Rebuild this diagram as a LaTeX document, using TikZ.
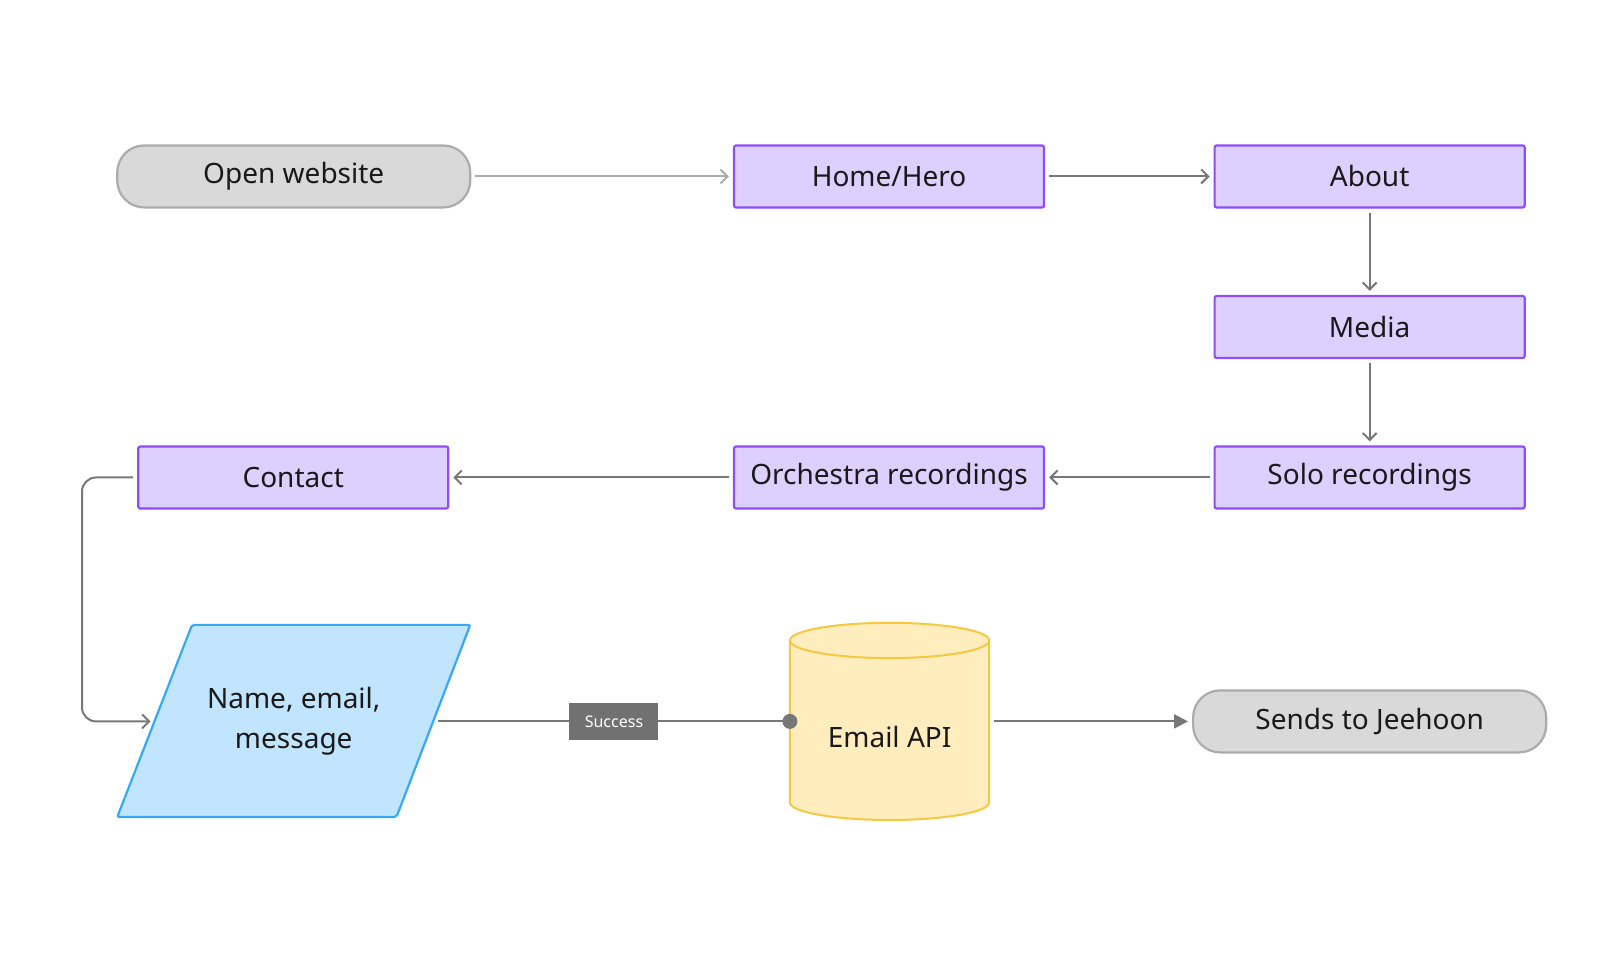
\documentclass[tikz,border=0pt]{standalone}
\usepackage{fontspec}
\setmainfont{Noto Sans}
\usetikzlibrary{arrows.meta,shapes.geometric}
\definecolor{pfill}{HTML}{DDD0FF}
\definecolor{pdraw}{HTML}{8E4DF5}
\definecolor{gfill}{HTML}{D9D9D9}
\definecolor{gdraw}{HTML}{ABABAB}
\definecolor{bfill}{HTML}{C2E5FF}
\definecolor{bdraw}{HTML}{36A8F5}
\definecolor{yfill}{HTML}{FFEDBD}
\definecolor{ydraw}{HTML}{F5C842}
\definecolor{conn}{HTML}{777777}
\begin{document}
\begin{tikzpicture}[x=1.038pt,y=-1.038pt,
  base/.style={minimum width=310pt,minimum height=62pt,font=\fontsize{28}{33}\selectfont,text=black!90,line width=2.2pt},
  pg/.style={base,draw=pdraw,fill=pfill,rounded corners=2pt},
  term/.style={base,draw=gdraw,fill=gfill,rounded corners=27pt,minimum width=353pt},
  con/.style={draw=conn,line width=2pt,-{Straight Barb[length=7pt,width=14pt]},shorten >=4pt,shorten <=4pt}]
\useasboundingbox (0,0) rectangle (1560.7,924.9);
\node[term] (open) at (283,170) {Open website};
\node[pg] (home) at (856.5,170) {Home/Hero};
\node[pg] (about) at (1319.5,170) {About};
\node[pg] (media) at (1319.5,315) {Media};
\node[pg] (solo) at (1319.5,460) {Solo recordings};
\node[pg] (orch) at (856.5,460) {Orchestra recordings};
\node[pg] (contact) at (282.5,460) {Contact};
\node[term] (send) at (1319.5,695) {Sends to Jeehoon};
% parallelogram
\draw[bdraw,fill=bfill,line width=2.2pt,rounded corners=2pt] (185,602)--(453,602)--(382,787)--(113,787)--cycle;
\node[font=\fontsize{28}{40}\selectfont,align=center,text=black!90] (form) at (283,695) {Name, email,\\message};
\coordinate (formL) at (145,695);
\coordinate (formR) at (422,695);
% cylinder
\draw[ydraw,fill=yfill,line width=2pt] (761,617) -- (761,773) arc[start angle=180,end angle=0,x radius=96,y radius=17] -- (953,617);
\draw[ydraw,fill=yfill,line width=2pt] (857,617) ellipse[x radius=96,y radius=17];
\node[font=\fontsize{28}{33}\selectfont,text=black!90] (api) at (857,710) {Email API};
\coordinate (apiL) at (761,695);
\coordinate (apiR) at (958,695);
% connectors
\draw[con,draw=gdraw] (open) -- (home);
\draw[con] (home) -- (about);
\draw[con] (about) -- (media);
\draw[con] (media) -- (solo);
\draw[con] (solo) -- (orch);
\draw[con] (orch) -- (contact);
\draw[con,rounded corners=14pt,shorten >=0pt] (contact.west) -- (79,460) -- (79,695) -- (formL);
\draw[draw=conn,line width=2pt] (formR) -- node[fill=conn!95!black,text=white,font=\fontsize{16}{18}\selectfont,minimum width=89pt,minimum height=37pt,inner sep=0pt] (succ) {Success} (apiL);
\fill[conn] (apiL) circle (7.5pt);
\draw[draw=conn,line width=2pt,-{Triangle[length=14pt,width=14pt]},shorten >=4pt] (apiR) -- (send);
\end{tikzpicture}
\end{document}
